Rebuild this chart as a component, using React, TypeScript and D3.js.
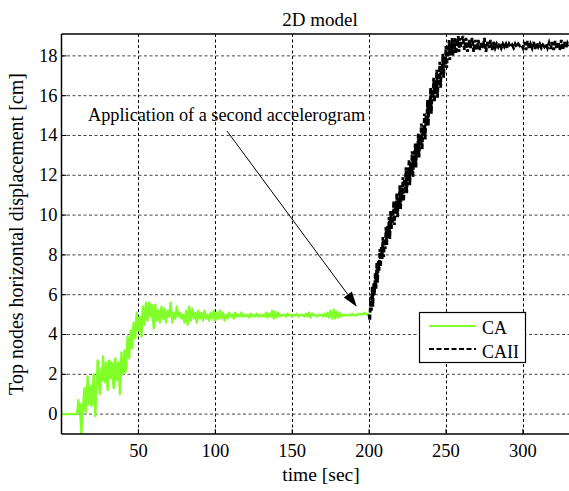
import React from "react";
import * as d3 from "d3";

// CA series, early part: t = 0..70 s, step 0.5 s
const caEarlyStart = 0;
const caEarlyStep = 0.5;
const caEarlyValues = [
  0, 0, 0, 0, 0, 0, 0, 0, 0, 0, 0, 0, 0, 0, 0, 0, 0, 0, 0, 0, 0,
  0.3, 0.7, 0.1, 0.5, -0.4, -1.0, -0.2, 0.4, 0.9, 1.3,
  0.2, 0.1, 1.0, 1.9, 0.8, 0.5, 1.2, 1.4, 0.4, 0.6,
  1.5, 2.0, 0.9, -0.1, 0.9, 1.6, 2.7, 2.6, 1.4, 1.0,
  1.8, 2.3, 1.7, 2.9, 2.2, 1.6, 2.0, 2.6, 1.8, 1.2,
  2.1, 2.7, 2.0, 1.8, 2.6, 2.5, 1.6, 1.3, 2.2, 2.8,
  2.2, 1.7, 2.4, 2.6, 1.9, 1.0, 2.0, 3.1, 2.4, 2.0,
  2.6, 3.2, 2.1, 2.3, 3.3, 3.9, 3.0, 2.8, 3.7, 4.2,
  3.4, 3.3, 4.3, 4.6, 3.9, 3.8, 4.7, 5.1, 4.3, 4.2,
  4.8, 4.9, 4.1, 3.9, 4.8, 5.4, 4.9, 4.5, 5.2, 5.6,
  4.9, 4.7, 5.3, 5.6, 5.0, 4.9, 5.5, 5.4, 4.8, 4.3,
  5.0, 5.5, 5.0, 4.7, 5.1, 5.2, 4.8, 4.6, 5.1, 5.4,
  5.0, 4.8, 5.2, 5.3, 4.9, 4.6, 5.0, 5.2, 4.9, 4.9,
];

// CA series, late part: t = 71..200 s, step 1 s
const caLateStart = 71;
const caLateStep = 1;
const caLateValues = [
  5.6, 4.6, 5.1, 4.8, 5.4, 4.9, 5.1, 4.8, 5.0,
  4.6, 5.2, 4.5, 5.4, 4.7, 5.3, 4.8, 5.1, 4.6, 5.2,
  4.8, 5.1, 4.7, 5.2, 4.8, 5.0, 4.7, 5.1, 4.8, 5.2,
  4.7, 5.1, 4.8, 5.2, 4.8, 5.1, 4.7, 5.0, 4.8, 5.1,
  4.9, 5.0, 4.8, 5.1, 4.9, 5.0, 4.9, 5.1, 4.9, 5.0,
  4.9, 5.0, 4.85, 5.05, 4.9, 5.0, 4.9, 5.05, 4.9, 5.0,
  4.9, 5.0, 4.9, 5.1, 4.85, 5.05, 4.9, 5.2, 4.8, 5.15,
  4.85, 5.1, 4.9, 5.0, 4.95, 5.0, 4.9, 5.05, 4.95, 5.0,
  4.9, 5.0, 4.95, 5.05, 4.9, 5.0, 4.95, 5.0, 4.9, 5.05,
  4.9, 5.1, 4.85, 5.05, 4.95, 5.0, 4.9, 5.0, 4.95, 5.0,
  4.9, 5.05, 4.9, 5.1, 4.85, 5.2, 4.8, 5.25, 4.8, 5.15,
  4.85, 5.1, 4.9, 5.0, 4.95, 5.0, 4.95, 5.0, 4.95, 5.05,
  4.95, 5.0, 4.95, 5.05, 5.0, 5.05, 5.0, 5.1, 5.0, 5.05,
  4.9,
];

// CAII series, rise: t = 200..260 s, step 0.5 s
const caiiRiseStart = 200;
const caiiRiseStep = 0.5;
const caiiRiseValues = [
  5.0, 4.7, 5.9, 5.2, 6.4, 5.4, 6.6, 6.0, 7.1, 6.3,
  7.6, 6.6, 7.7, 7.2, 8.3, 7.4, 8.4, 7.8, 8.9, 7.9,
  8.8, 8.3, 9.4, 8.5, 9.5, 8.9, 9.9, 8.8, 10.2, 9.3,
  10.1, 9.6, 10.7, 9.5, 10.6, 10.1, 11.1, 9.9, 10.9, 10.4,
  11.5, 10.3, 11.4, 10.9, 11.9, 10.7, 11.8, 11.3, 12.4, 11.1,
  12.2, 11.7, 12.8, 11.5, 12.6, 12.1, 13.2, 11.9, 13.0, 12.5,
  13.6, 12.4, 13.5, 13.0, 14.1, 12.9, 13.9, 13.5, 14.6, 13.3,
  14.4, 14.0, 15.1, 13.8, 15.0, 14.6, 15.8, 14.5, 15.7, 15.2,
  16.4, 15.1, 16.2, 15.9, 16.9, 15.7, 16.6, 16.3, 17.3, 15.9,
  17.0, 16.8, 17.7, 16.4, 17.4, 17.2, 18.1, 16.9, 17.8, 17.6,
  18.5, 17.4, 18.2, 18.0, 18.8, 17.8, 18.5, 18.2, 18.9, 18.0,
  18.7, 18.3, 18.9, 18.1, 18.8, 18.5, 19.0, 18.2, 18.9, 18.4,
  18.7,
];

// CAII series, plateau: t = 261..330 s, step 1 s
const caiiFlatStart = 261;
const caiiFlatStep = 1;
const caiiFlatValues = [
  19.0, 18.3, 18.9, 18.2, 18.8, 18.4, 18.9, 18.2, 18.8, 18.3,
  18.8, 18.3, 18.7, 18.4, 18.9, 18.2, 18.7, 18.4, 18.8, 18.3,
  18.7, 18.4, 18.6, 18.45, 18.65, 18.4, 18.6, 18.45, 18.6, 18.4,
  18.6, 18.45, 18.55, 18.4, 18.6, 18.45, 18.6, 18.5, 18.55, 18.4,
  18.7, 18.3, 18.75, 18.35, 18.6, 18.4, 18.7, 18.35, 18.65, 18.45,
  18.6, 18.4, 18.55, 18.45, 18.6, 18.4, 18.65, 18.35, 18.7, 18.3,
  18.75, 18.35, 18.7, 18.3, 18.8, 18.3, 18.7, 18.4, 18.65, 18.5,
];

const xTicks = [50, 100, 150, 200, 250, 300];
const yTicks = [0, 2, 4, 6, 8, 10, 12, 14, 16, 18];
const seriesNames = ["CA", "CAII"];
const titleText = "2D model";
const xLabel = "time [sec]";
const yLabel = "Top nodes horizontal displacement [cm]";
const annotationText = "Application of a second accelerogram";
const annotationTarget = [192, 5.4];

const W = 569;
const H = 491;
const L = 61.5;
const R = 569;
const T = 34;
const B = 434;
const FONT = "'Liberation Serif', 'Times New Roman', Times, serif";
const GREEN = "#80ff28";

function toPoints(start: number, step: number, vals: number[]): [number, number][] {
  return vals.map((v, i) => [start + i * step, v]);
}

export default function App() {
  const x = d3.scaleLinear().domain([0, 330]).range([L, R]);
  const y = d3.scaleLinear().domain([-1, 19.1]).range([B, T]);
  const line = d3
    .line<[number, number]>()
    .x((d) => x(d[0]))
    .y((d) => y(d[1]));
  const caData = [
    ...toPoints(caEarlyStart, caEarlyStep, caEarlyValues),
    ...toPoints(caLateStart, caLateStep, caLateValues),
  ];
  const caiiData = [
    ...toPoints(caiiRiseStart, caiiRiseStep, caiiRiseValues),
    ...toPoints(caiiFlatStart, caiiFlatStep, caiiFlatValues),
  ];

  const ax = 227;
  const ay = 131;
  const bx = x(annotationTarget[0]);
  const by = y(annotationTarget[1]);
  const ang = Math.atan2(by - ay, bx - ax);
  const hl = 15;
  const hw = 5;
  const p1 = [bx - hl * Math.cos(ang) + hw * Math.sin(ang), by - hl * Math.sin(ang) - hw * Math.cos(ang)];
  const p2 = [bx - hl * Math.cos(ang) - hw * Math.sin(ang), by - hl * Math.sin(ang) + hw * Math.cos(ang)];

  return (
    <svg
      width={W}
      height={H}
      style={{ position: "absolute", left: 0, top: 0, background: "#fff", fontFamily: FONT }}
    >
      <rect width={W} height={H} fill="#fff" />
      <defs>
        <clipPath id="plotclip">
          <rect x={L} y={T} width={R - L} height={B - T} />
        </clipPath>
      </defs>
      {/* grid */}
      <g stroke="#000" strokeWidth={1} strokeDasharray="3,2.5">
        {xTicks.map((t) => (
          <line key={"gx" + t} x1={Math.round(x(t)) + 0.5} x2={Math.round(x(t)) + 0.5} y1={T} y2={B} />
        ))}
        {yTicks.map((t) => (
          <line key={"gy" + t} x1={L} x2={R} y1={y(t)} y2={y(t)} stroke="#444" />
        ))}
      </g>
      {/* ticks */}
      <g stroke="#000" strokeWidth={1}>
        {xTicks.map((t) => (
          <line key={"tx" + t} x1={x(t)} x2={x(t)} y1={B} y2={B - 5} />
        ))}
        {yTicks.map((t) => (
          <line key={"ty" + t} x1={L} x2={L + 5} y1={y(t)} y2={y(t)} />
        ))}
      </g>
      {/* data */}
      <g clipPath="url(#plotclip)">
        <path d={line(caData) || ""} fill="none" stroke={GREEN} strokeWidth={2.3} strokeLinejoin="round" />
        <path
          d={line(caiiData) || ""}
          fill="none"
          stroke="#000"
          strokeWidth={2.8}
          strokeDasharray="5,2"
        />
      </g>
      {/* axes box */}
      <line x1={L} x2={L} y1={T} y2={B} stroke="#000" strokeWidth={1.5} />
      <line x1={L} x2={R} y1={B} y2={B} stroke="#000" strokeWidth={1.5} />
      <line x1={L} x2={R} y1={T} y2={T} stroke="#000" strokeWidth={1.5} />
      {/* tick labels */}
      <g style={{ fontSize: "18.5px" }} fill="#000">
        {xTicks.map((t) => (
          <text key={"lx" + t} x={x(t)} y={457} textAnchor="middle">
            {t}
          </text>
        ))}
        {yTicks.map((t) => (
          <text key={"ly" + t} x={L - 4} y={y(t) + 6} textAnchor="end">
            {t}
          </text>
        ))}
      </g>
      {/* title & labels */}
      <text x={320} y={26} textAnchor="middle" style={{ fontSize: "19px" }}>
        {titleText}
      </text>
      <text x={321} y={481} textAnchor="middle" style={{ fontSize: "19.5px" }}>
        {xLabel}
      </text>
      <text
        transform={`translate(23, ${(T + B) / 2}) rotate(-90)`}
        textAnchor="middle"
        style={{ fontSize: "20px" }}
      >
        {yLabel}
      </text>
      {/* annotation */}
      <text x={88} y={121} style={{ fontSize: "18.3px" }}>
        {annotationText}
      </text>
      <line x1={ax} y1={ay} x2={(p1[0] + p2[0]) / 2} y2={(p1[1] + p2[1]) / 2} stroke="#000" strokeWidth={1} />
      <polygon points={`${bx},${by} ${p1[0]},${p1[1]} ${p2[0]},${p2[1]}`} fill="#000" />
      {/* legend */}
      <g>
        <rect x={419.5} y={312.5} width={106} height={50} fill="#fff" stroke="#000" strokeWidth={1.2} />
        <line x1={429} x2={476} y1={326} y2={326} stroke={GREEN} strokeWidth={2} />
        <text x={482} y={334} style={{ fontSize: "18px" }}>
          {seriesNames[0]}
        </text>
        <line x1={429} x2={476} y1={349} y2={349} stroke="#000" strokeWidth={2.2} strokeDasharray="5,2.5" />
        <text x={482} y={358} style={{ fontSize: "18px" }}>
          {seriesNames[1]}
        </text>
      </g>
    </svg>
  );
}
